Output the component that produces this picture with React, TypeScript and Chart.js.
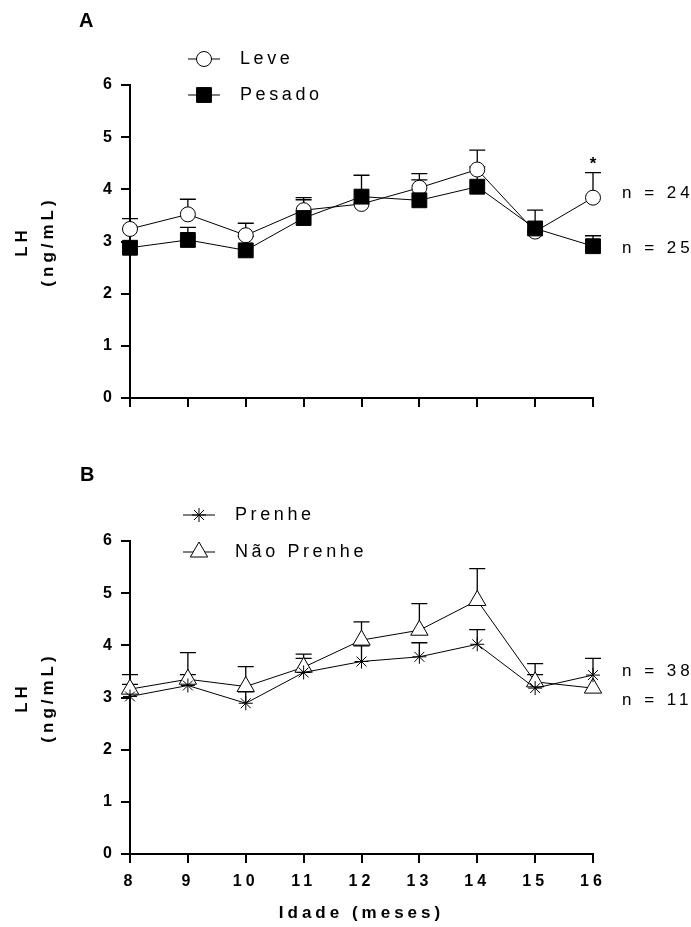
import React, { useEffect, useRef } from 'react';
import { Chart, registerables } from 'chart.js';

Chart.register(...registerables);

const FONT = "'Liberation Sans', Arial, Helvetica, sans-serif";

// ---- data ----
const months = [8, 9, 10, 11, 12, 13, 14, 15, 16];

// Panel A
const leveMean = [3.24, 3.52, 3.12, 3.6, 3.72, 4.03, 4.38, 3.19, 3.84];
const leveSem = [0.2, 0.29, 0.23, 0.24, null, 0.27, 0.37, null, 0.48];
const pesadoMean = [2.88, 3.03, 2.83, 3.45, 3.86, 3.79, 4.05, 3.25, 2.91];
const pesadoSem = [null, 0.24, 0.27, 0.35, 0.41, 0.39, 0.38, 0.35, 0.2];

// Panel B
const prenheMean = [3.02, 3.23, 2.89, 3.48, 3.69, 3.78, 4.02, 3.18, 3.43];
const prenheSem = [0.23, 0.21, 0.22, 0.27, 0.3, 0.27, 0.28, 0.26, 0.32];
const naoPrenheMean = [3.16, 3.35, 3.21, 3.58, 4.1, 4.29, 4.86, 3.3, 3.18];
const naoPrenheSem = [0.28, 0.51, 0.38, 0.25, 0.35, 0.51, 0.61, 0.35, null];

const nLabelsA = ['n = 24', 'n = 25'];
const nLabelsB = ['n = 38', 'n = 11'];

// ---- helpers ----
function drawMarker(ctx: CanvasRenderingContext2D, style: string, x: number, y: number, r: number, fill: string) {
  ctx.save();
  ctx.strokeStyle = '#000';
  ctx.lineWidth = 1;
  ctx.fillStyle = fill;
  ctx.beginPath();
  if (style === 'circle') {
    ctx.arc(x, y, r, 0, Math.PI * 2);
    ctx.fill();
    ctx.stroke();
  } else if (style === 'rect') {
    const s = r * Math.SQRT1_2;
    ctx.rect(x - s, y - s, 2 * s, 2 * s);
    ctx.fill();
    ctx.stroke();
  } else if (style === 'triangle') {
    for (let k = 0; k < 3; k++) {
      const a = (k * 2 * Math.PI) / 3;
      const px = x + Math.sin(a) * r;
      const py = y - Math.cos(a) * r;
      if (k === 0) ctx.moveTo(px, py);
      else ctx.lineTo(px, py);
    }
    ctx.closePath();
    ctx.fill();
    ctx.stroke();
  } else if (style === 'star') {
    const d = r * Math.SQRT1_2;
    ctx.moveTo(x, y - r); ctx.lineTo(x, y + r);
    ctx.moveTo(x - r, y); ctx.lineTo(x + r, y);
    ctx.moveTo(x - d, y - d); ctx.lineTo(x + d, y + d);
    ctx.moveTo(x - d, y + d); ctx.lineTo(x + d, y - d);
    ctx.stroke();
  }
  ctx.restore();
}

const errorBarPlugin = {
  id: 'errorBars',
  beforeDatasetsDraw(chart: any) {
    const { ctx } = chart;
    const xs = chart.scales.x;
    const ys = chart.scales.y;
    ctx.save();
    ctx.strokeStyle = '#000';
    ctx.lineWidth = 1.3;
    chart.data.datasets.forEach((ds: any) => {
      if (!ds.sem) return;
      ds.data.forEach((pt: any, i: number) => {
        const s = ds.sem[i];
        if (s == null) return;
        const px = xs.getPixelForValue(pt.x);
        const y0 = ys.getPixelForValue(pt.y);
        const y1 = ys.getPixelForValue(pt.y + s);
        ctx.beginPath();
        ctx.moveTo(px, y0);
        ctx.lineTo(px, y1);
        ctx.moveTo(px - 8, y1);
        ctx.lineTo(px + 8, y1);
        ctx.stroke();
      });
    });
    ctx.restore();
  },
};

type Note = { text: string; x: number; y: number; font: string; spacing: string; align: CanvasTextAlign; baseline: CanvasTextBaseline };
type AnnotCfg = {
  letter: string; letterX: number; letterY: number;
  legendX0: number; legendX1: number; legendTextX: number; legendY: number[];
  notes: Note[];
};

function makeAnnotPlugin(cfg: AnnotCfg) {
  return {
    id: 'annot',
    beforeDraw(chart: any) {
      chart.ctx.letterSpacing = '4px';
    },
    afterDraw(chart: any) {
      const ctx: CanvasRenderingContext2D = chart.ctx;
      ctx.save();
      ctx.fillStyle = '#000';
      (ctx as any).letterSpacing = '0px';
      ctx.font = `bold 20px ${FONT}`;
      ctx.textAlign = 'left';
      ctx.textBaseline = 'middle';
      ctx.fillText(cfg.letter, cfg.letterX, cfg.letterY);

      chart.data.datasets.forEach((ds: any, k: number) => {
        const y = cfg.legendY[k];
        ctx.strokeStyle = '#000';
        ctx.lineWidth = 1;
        ctx.beginPath();
        ctx.moveTo(cfg.legendX0, y);
        ctx.lineTo(cfg.legendX1, y);
        ctx.stroke();
        drawMarker(ctx, ds.pointStyle, (cfg.legendX0 + cfg.legendX1) / 2, y, ds.pointRadius, ds.pointBackgroundColor);
        ctx.fillStyle = '#000';
        ctx.font = `18px ${FONT}`;
        (ctx as any).letterSpacing = '3.6px';
        ctx.textAlign = 'left';
        ctx.textBaseline = 'middle';
        ctx.fillText(ds.label, cfg.legendTextX, y);
      });

      cfg.notes.forEach((n) => {
        ctx.font = n.font;
        (ctx as any).letterSpacing = n.spacing;
        ctx.textAlign = n.align;
        ctx.textBaseline = n.baseline;
        ctx.fillStyle = '#000';
        ctx.fillText(n.text, n.x, n.y);
      });
      ctx.restore();
    },
  };
}

type PanelProps = {
  top: number;
  height: number;
  datasets: any[];
  showX: boolean;
  padTop: number;
  padBottom: number;
  xH: number;
  annot: AnnotCfg;
};

function Panel({ top, height, datasets, showX, padTop, padBottom, xH, annot }: PanelProps) {
  const ref = useRef<HTMLCanvasElement | null>(null);
  useEffect(() => {
    if (!ref.current) return;
    const tickFont = { family: FONT, size: 16, weight: 'bold' as const };
    const grid = { display: true, drawOnChartArea: false, drawTicks: true, tickLength: 9, color: '#000', lineWidth: 2 };
    const border = { display: true, color: '#000', width: 2 };
    const chart = new Chart(ref.current, {
      type: 'line',
      data: { datasets },
      options: {
        responsive: false,
        animation: false,
        events: [],
        layout: { padding: { left: 9, top: padTop, right: 98, bottom: padBottom } },
        elements: { line: { tension: 0 } },
        plugins: { legend: { display: false }, tooltip: { enabled: false } },
        scales: {
          x: {
            type: 'linear',
            min: 8,
            max: 16,
            position: 'bottom',
            ticks: { stepSize: 1, display: showX, font: tickFont, color: '#000', padding: 9, maxRotation: 0, autoSkip: false },
            grid,
            border,
            title: showX
              ? { display: true, text: 'Idade (meses)', color: '#000', font: { family: FONT, size: 17, weight: 'bold' }, padding: 0 }
              : { display: false },
            afterFit: (s: any) => { s.height = xH; },
          },
          y: {
            type: 'linear',
            min: 0,
            max: 6,
            ticks: { stepSize: 1, font: tickFont, color: '#000', padding: 5 },
            grid,
            border,
            title: {
              display: true,
              text: ['LH', '(ng/mL)'],
              color: '#000',
              font: { family: FONT, size: 17, weight: 'bold', lineHeight: '26px' },
              padding: 0,
            },
            afterFit: (s: any) => { s.width = 121; },
          },
        },
      } as any,
      plugins: [errorBarPlugin, makeAnnotPlugin(annot)],
    });
    return () => chart.destroy();
  }, []);
  return (
    <canvas
      ref={ref}
      width={691}
      height={height}
      style={{ position: 'absolute', left: 0, top, width: 691, height }}
    />
  );
}

const pts = (vals: number[]) => months.map((m, i) => ({ x: m, y: vals[i] }));

const baseDs = { borderColor: '#000', borderWidth: 1, pointBorderColor: '#000', pointBorderWidth: 1, fill: false, clip: false };

const datasetsA = [
  { ...baseDs, label: 'Leve', data: pts(leveMean), sem: leveSem, pointStyle: 'circle', pointRadius: 7.5, pointBackgroundColor: '#fff', order: 1 },
  { ...baseDs, label: 'Pesado', data: pts(pesadoMean), sem: pesadoSem, pointStyle: 'rect', pointRadius: 10.5, pointBackgroundColor: '#000', order: 0 },
];

const datasetsB = [
  { ...baseDs, label: 'Prenhe', data: pts(prenheMean), sem: prenheSem, pointStyle: 'star', pointRadius: 7, pointBackgroundColor: '#000', order: 0 },
  { ...baseDs, label: 'Não Prenhe', data: pts(naoPrenheMean), sem: naoPrenheSem, pointStyle: 'triangle', pointRadius: 10, pointBackgroundColor: '#fff', order: 1 },
];

const nFont = `17px ${FONT}`;

const annotA: AnnotCfg = {
  letter: 'A', letterX: 79, letterY: 21,
  legendX0: 188, legendX1: 220, legendTextX: 240, legendY: [59, 95],
  notes: [
    { text: '*', x: 593, y: 169, font: `bold 17px ${FONT}`, spacing: '0px', align: 'center', baseline: 'alphabetic' },
    { text: nLabelsA[0], x: 622, y: 193, font: nFont, spacing: '4px', align: 'left', baseline: 'middle' },
    { text: nLabelsA[1], x: 622, y: 248, font: nFont, spacing: '4px', align: 'left', baseline: 'middle' },
  ],
};

const annotB: AnnotCfg = {
  letter: 'B', letterX: 80, letterY: 25,
  legendX0: 183, legendX1: 215, legendTextX: 235, legendY: [65, 102],
  notes: [
    { text: nLabelsB[0], x: 622, y: 221, font: nFont, spacing: '4px', align: 'left', baseline: 'middle' },
    { text: nLabelsB[1], x: 622, y: 250, font: nFont, spacing: '4px', align: 'left', baseline: 'middle' },
  ],
};

export default function App() {
  return (
    <div style={{ position: 'absolute', left: 0, top: 0, width: 691, height: 927, background: '#fff' }}>
      <Panel top={0} height={450} datasets={datasetsA} showX={false} padTop={85} padBottom={32} xH={20} annot={annotA} />
      <Panel top={450} height={477} datasets={datasetsB} showX={true} padTop={91} padBottom={3} xH={70} annot={annotB} />
    </div>
  );
}
